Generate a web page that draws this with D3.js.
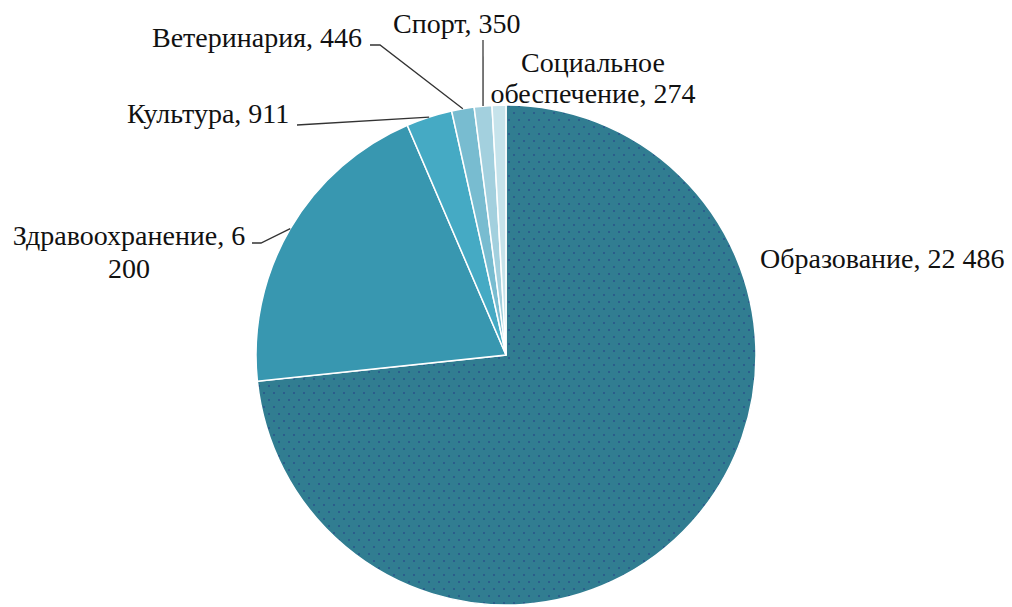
<!DOCTYPE html>
<html>
<head>
<meta charset="utf-8">
<script src="https://cdn.jsdelivr.net/npm/d3@7"></script>
<style>
  body { margin: 0; background: #fff; }
</style>
</head>
<body>
<div id="chart-container"></div>
<script>
// data
let categories = ["Образование", "Здравоохранение", "Культура", "Ветеринария", "Спорт", "Социальное обеспечение"],
    values = [22486, 6200, 911, 446, 350, 274],
    valueLabels = ["22 486", "6 200", "911", "446", "350", "274"],
    colors = ["url(#dots)", "#3897b0", "#45aac4", "#78bcd0", "#a3d0de", "#c6e3eb"];

// label layout: lines of text, anchor point, where the leader leaves the text
let labelLayout = [
    { lines: ["Образование, 22 486"], x: 760, y: 268, anchor: "start", leader: null },
    { lines: ["Здравоохранение, 6", "200"], x: 129, y: 245, lh: 33, anchor: "middle", leader: [[252, 243], [261, 243]] },
    { lines: ["Культура, 911"], x: 127, y: 123, anchor: "start", leader: [[297, 125]] },
    { lines: ["Ветеринария, 446"], x: 152, y: 47, anchor: "start", leader: [[370, 45], [380, 45]] },
    { lines: ["Спорт, 350"], x: 393, y: 33, anchor: "start", leader: [[483, 40]] },
    { lines: ["Социальное", "обеспечение, 274"], x: 593, y: 72, lh: 31, anchor: "middle", leader: null }
];

let width = 1012, height = 607,
    cx = 506, cy = 355, radius = 250,
    svg = d3.select("#chart-container").append("svg").attr("width", width).attr("height", height);

let defs = svg.append("defs");
let pat = defs.append("pattern")
    .attr("id", "dots")
    .attr("patternUnits", "userSpaceOnUse")
    .attr("width", 10).attr("height", 14);
pat.append("rect").attr("width", 10).attr("height", 14).attr("fill", "#317d91");
pat.append("rect").attr("x", 2).attr("y", 2).attr("width", 2).attr("height", 2).attr("fill", "#2b5d8c");
pat.append("rect").attr("x", 7).attr("y", 9).attr("width", 2).attr("height", 2).attr("fill", "#2b5d8c");

let pie = d3.pie().sort(null).value(d => d.value),
    arc = d3.arc().innerRadius(0).outerRadius(radius),
    edge = d3.arc().innerRadius(radius).outerRadius(radius);

let arcs = pie(categories.map((c, i) => ({ name: c, value: values[i], label: valueLabels[i] })));

let g = svg.append("g").attr("transform", `translate(${cx},${cy})`);

g.selectAll("path.slice")
    .data(arcs)
    .enter().append("path")
    .attr("class", "slice")
    .attr("fill", (d, i) => colors[i])
    .attr("stroke", "#fff")
    .attr("stroke-width", 1.5)
    .attr("d", arc);

// leader lines, ending on the slice edge
let line = d3.line();
arcs.forEach((d, i) => {
    let lay = labelLayout[i];
    if (!lay.leader) return;
    let p = edge.centroid(d);
    let pts = lay.leader.concat([[p[0] + cx, p[1] + cy]]);
    svg.append("path")
        .attr("d", line(pts))
        .attr("fill", "none")
        .attr("stroke", "#333")
        .attr("stroke-width", 1.3);
});

// labels
labelLayout.forEach(lay => {
    let t = svg.append("text")
        .attr("x", lay.x)
        .attr("y", lay.y)
        .attr("text-anchor", lay.anchor)
        .attr("font-family", "Liberation Serif")
        .attr("font-size", 28)
        .attr("fill", "#111");
    lay.lines.forEach((s, j) => {
        t.append("tspan")
            .attr("x", lay.x)
            .attr("dy", j ? lay.lh : 0)
            .text(s);
    });
});
</script>
</body>
</html>
